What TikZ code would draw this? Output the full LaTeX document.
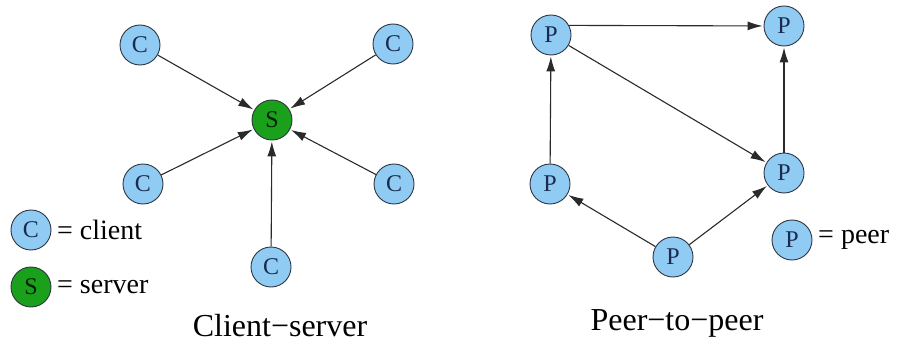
\documentclass[tikz,border=0pt]{standalone}
\usepackage{fontspec}
\setmainfont{Liberation Serif}
\usepackage{xcolor}
\definecolor{NodeBlue}{HTML}{8FCBF3}
\definecolor{NodeGreen}{HTML}{1AA01A}
\definecolor{NodeBorder}{HTML}{2E3440}
\definecolor{NodeText}{HTML}{1B2A4E}
\definecolor{LinkGray}{HTML}{2A2A2A}
\usetikzlibrary{positioning,arrows.meta}

\tikzset{
  host/.style={circle, draw=NodeBorder, line width=0.9pt, minimum size=40pt,
    inner sep=0pt, text=NodeText, font=\rmfamily\fontsize{24}{24}\selectfont},
  client/.style={host, fill=NodeBlue},
  peer/.style={host, fill=NodeBlue},
  server/.style={host, fill=NodeGreen, text=black!80!NodeGreen},
  link/.style={draw=LinkGray, line width=1.1pt,
    -{Latex[length=15pt,width=9pt]}, shorten >=1pt},
  legend/.style={anchor=west, inner sep=0pt, font=\rmfamily\fontsize{28}{28}\selectfont},
  caption/.style={inner sep=0pt, font=\rmfamily\fontsize{32}{32}\selectfont}
}

\begin{document}
\begin{tikzpicture}[x=1pt, y=-1pt]
  \useasboundingbox (0,0) rectangle (901,350);

  % client-server star
  \node[server] (srv) at (272,120) {S};
  \node[client] (c1) at (140,45) {C};
  \node[client] (c2) at (393,44) {C};
  \node[client] (c3) at (143,184) {C};
  \node[client] (c4) at (394,184) {C};
  \node[client] (c5) at (271,267) {C};
  \foreach \c in {c1,c2,c3,c4,c5} {\draw[link] (\c) -- (srv);}

  % legend
  \node[client] (keyc) at (31,230) {C};
  \node[legend] (keyctext) at (57,230) {= client};
  \node[server] (keys) at (31,287) {S};
  \node[legend] (keystext) at (57,287) {= server};
  \node[caption] (cscap) at (280,326) {Client−server};

  % peer-to-peer mesh
  \node[peer] (p1) at (551,35) {P};
  \node[peer] (p2) at (784,26) {P};
  \node[peer] (p3) at (550,184) {P};
  \node[peer] (p4) at (784,173) {P};
  \node[peer] (p5) at (673,257) {P};
  \draw[link] (p1.28) -- (p2);
  \draw[link] (p1) -- (p4);
  \draw[link] (p3) -- (p1);
  \draw[link] (p4) -- (p2);
  \draw[link] (p5) -- (p3);
  \draw[link] (p5) -- (p4);

  \node[peer] (keyp) at (792,240) {P};
  \node[legend] (keyptext) at (818,240) {= peer};
  \node[caption] (p2pcap) at (677,323) {Peer−to−peer};
\end{tikzpicture}
\end{document}
